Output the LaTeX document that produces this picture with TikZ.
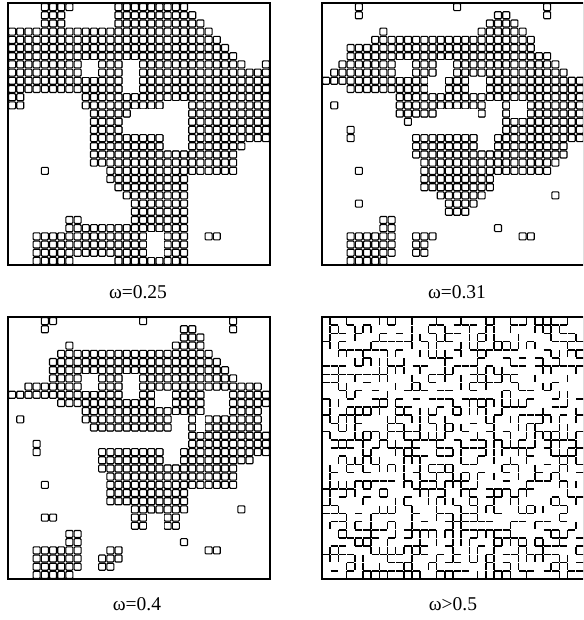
\documentclass[tikz,border=0pt]{standalone}
\usepackage{fontspec}
\setmainfont{Liberation Serif}
\usetikzlibrary{positioning}
\newcommand{\cellw}{8.1875}
\tikzset{
    cellbox/.style={draw=black, line width=1.1pt, rounded corners=0.9pt},
    panelframe/.style={draw=black, line width=1.3pt},
    bond/.style={draw=black, line width=1.6pt},
    caption/.style={font=\fontsize{19.5}{23}\selectfont, anchor=base, inner sep=0pt}
}
% one run of cells per entry: row/first column/last column
\newcommand{\cellruns}[1]{%
  \foreach \rw/\cfrom/\cto in {#1} {
    \foreach \cl in {\cfrom,...,\cto} {
      \draw[cellbox] ({\cl*\cellw+0.6},{\rw*\cellw+0.6}) rectangle ++({\cellw-1.2},{\cellw-1.2});
    }
  }}
% empty blocks: first col/last col/first row/last row
\newcommand{\cellholes}[1]{%
  \foreach \ca/\cb/\ra/\rb in {#1} {
    \fill[white] ({\ca*\cellw},{\ra*\cellw}) rectangle ({(\cb+1)*\cellw},{(\rb+1)*\cellw});
  }}
\begin{document}
\begin{tikzpicture}[x=1pt, y=-1pt]
    \clip (0,0) rectangle (583,620);
    \fill[white] (0,0) rectangle (583,620);

    % omega = 0.25
    \begin{scope}[shift={(8,3)}]
      \cellruns{0/4/7, 0/13/21, 1/4/6, 1/13/22, 2/4/6, 2/13/23,
        3/0/24, 4/0/25, 5/0/26, 6/0/27, 7/0/28, 7/31/31,
        8/0/31, 9/0/31, 10/0/31, 11/0/1, 11/9/31, 12/0/1, 12/9/31,
        13/10/31, 14/10/31, 15/10/31, 16/10/31, 17/10/28, 18/10/27, 19/10/27,
        20/4/4, 20/12/27, 21/12/21, 22/13/21, 23/14/21, 24/15/21, 25/15/21,
        26/7/8, 26/15/21, 27/7/21, 28/3/21, 28/24/25, 29/3/21, 30/3/21,
        31/3/7, 31/13/21}
      \cellholes{9/10/7/8, 14/15/7/10, 15/18/13/13, 14/18/14/15, 19/21/12/17, 17/18/28/30}
      \draw[panelframe] (0,0) rectangle (262,262);
    \end{scope}

    % omega = 0.31
    \begin{scope}[shift={(322,3)}]
      \cellruns{0/4/4, 0/16/16, 0/27/27, 1/4/4, 1/21/22, 1/27/27, 2/20/23,
        3/7/7, 3/19/24, 4/6/25, 5/3/25, 6/3/27, 7/2/28, 8/1/29, 9/0/31,
        10/3/31, 11/9/31, 12/1/1, 12/9/31, 13/9/31, 14/10/31,
        15/3/3, 15/11/31, 16/3/3, 16/11/31, 17/11/29, 18/11/29, 19/12/28,
        20/4/4, 20/12/27, 21/12/20, 22/12/20, 23/14/19, 23/28/28,
        24/4/4, 24/15/18, 25/15/17, 26/7/8, 27/7/8, 27/21/21,
        28/3/8, 28/11/13, 28/24/25, 29/3/8, 29/11/12, 30/3/8, 30/11/12, 31/3/7}
      \cellholes{9/10/7/8, 14/15/7/8, 13/14/9/10, 18/19/9/10, 23/24/12/13,
        11/13/14/15, 14/18/13/15, 20/21/12/13, 19/21/14/15, 19/20/16/17}
      \draw[panelframe] (0,0) rectangle (262,262);
    \end{scope}

    % omega = 0.4
    \begin{scope}[shift={(8,317)}]
      \cellruns{0/4/5, 0/16/16, 0/27/27, 1/4/4, 1/21/22, 1/27/27, 2/21/23,
        3/7/7, 3/20/23, 4/6/24, 5/5/25, 6/5/26, 7/5/27, 8/2/30, 9/0/31,
        10/6/31, 11/9/30, 12/1/1, 12/9/30, 13/10/30, 14/11/31,
        15/3/3, 15/11/31, 16/3/3, 16/11/31, 17/11/29, 18/11/27, 19/12/27,
        20/4/4, 20/12/27, 21/12/21, 22/12/21, 23/15/21, 23/28/28,
        24/4/5, 24/15/20, 25/15/20, 26/7/8, 27/7/8, 27/21/21,
        28/3/8, 28/12/13, 28/24/25, 29/3/8, 29/11/13, 30/3/8, 30/11/12, 31/3/7}
      \cellholes{9/10/7/8, 14/15/7/9, 18/19/9/10, 24/26/9/11, 23/23/12/13,
        11/18/14/15, 20/21/12/13, 19/21/14/15, 19/20/16/17, 17/18/24/25}
      \draw[panelframe] (0,0) rectangle (262,262);
    \end{scope}

    % omega > 0.5
    \begin{scope}[shift={(322,317)}]
      \pgfmathsetseed{4711}
      \foreach \rw in {1,...,31} {
        \foreach \cl in {0,...,31} {
          \pgfmathtruncatemacro{\hit}{rnd<0.5}
          \ifnum\hit=1
            \draw[bond] ({\cl*\cellw+0.5},{\rw*\cellw}) -- ({(\cl+1)*\cellw-0.5},{\rw*\cellw});
          \fi
        }
      }
      \foreach \cl in {1,...,31} {
        \foreach \rw in {0,...,31} {
          \pgfmathtruncatemacro{\hit}{rnd<0.5}
          \ifnum\hit=1
            \draw[bond] ({\cl*\cellw},{\rw*\cellw+0.5}) -- ({\cl*\cellw},{(\rw+1)*\cellw-0.5});
          \fi
        }
      }
      \draw[panelframe] (0,0) rectangle (262,262);
    \end{scope}

    \node[caption] (cap1) at (138,298) {ω=0.25};
    \node[caption] (cap2) at (457,298) {ω=0.31};
    \node[caption] (cap3) at (137,610) {ω=0.4};
    \node[caption] (cap4) at (453,610) {ω>0.5};
\end{tikzpicture}
\end{document}
